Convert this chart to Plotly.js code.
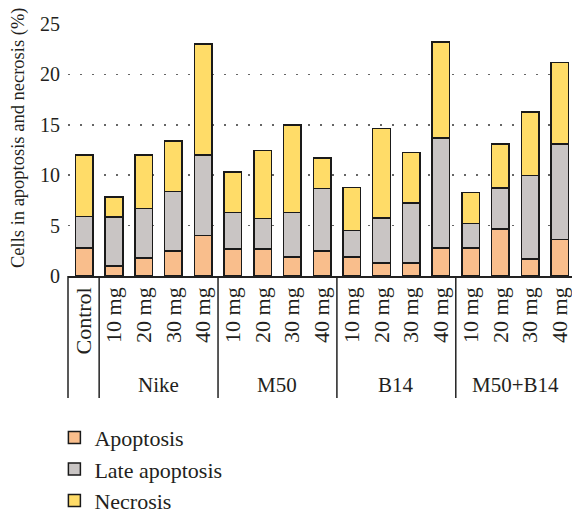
<!DOCTYPE html>
<html><head><meta charset="utf-8">
<script src="https://cdn.plot.ly/plotly-3.0.1.min.js"></script>
<style>html,body{margin:0;padding:0;background:#fff}</style>
</head><body><div id="chart" style="width:572px;height:513px"></div>
<script>
const categories = ['Control',
  '10 mg','20 mg','30 mg','40 mg',
  '10 mg','20 mg','30 mg','40 mg',
  '10 mg','20 mg','30 mg','40 mg',
  '10 mg','20 mg','30 mg','40 mg'];
const groupNames = ['Nike','M50','B14','M50+B14'];
const groupSizes = [4,4,4,4];
const apoptosis     = [2.8, 1.0,1.8,2.5,4.0, 2.7,2.7,1.9,2.5, 1.9,1.3,1.3,2.8, 2.8,4.65,1.7,3.6];
const lateApoptosis = [3.1, 4.85,4.9,5.9,8.0, 3.6,3.0,4.4,6.2, 2.6,4.45,5.95,10.9, 2.4,4.1,8.25,9.5];
const necrosis      = [6.1, 2.0,5.3,5.0,11.0, 4.0,6.75,8.7,3.0, 4.3,8.9,5.0,9.5, 3.1,4.35,6.3,8.1];
const yTicks = [0,5,10,15,20,25];
const yTitle = 'Cells in apoptosis and necrosis (%)';

const FONT = 'Liberation Serif, Times New Roman, serif';
const TXT = '#231f20';
const xs = categories.map((_, i) => i);
function bar(name, vals, color, grp) {
  return {type:'bar', name, x: xs, y: vals, width: 0.59, legendgroup: grp,
    marker:{color, line:{color:'#1a1a1a', width:1.5}}, hoverinfo:'y'};
}
const data = [
  bar('Apoptosis', apoptosis, '#F9BE8C', 'a'),
  bar('Late apoptosis', lateApoptosis, '#C9C5C4', 'b'),
  bar('Necrosis', necrosis, '#FFDC68', 'c')
];

const shapes = [];
const annotations = [];
const sepBottom = -0.484;
shapes.push({type:'line', xref:'paper', yref:'paper', x0:0, x1:0, y0:0, y1:sepBottom, line:{color:'#222', width:1.5}});
let start = 1;
groupSizes.forEach((n, g) => {
  const left = start - 0.5;
  shapes.push({type:'line', xref:'x', yref:'paper', x0:left, x1:left, y0:0, y1:sepBottom, line:{color:'#222', width:1.5}});
  annotations.push({xref:'x', yref:'paper', x:start + (n-1)/2, y:-0.4325, yanchor:'middle', xanchor:'center',
    text: groupNames[g], showarrow:false, font:{family:FONT, size:21, color:TXT}});
  start += n;
});
annotations.push({xref:'paper', yref:'paper', x:-0.097, y:0.548, xanchor:'center', yanchor:'middle',
  textangle:-90, text:yTitle, showarrow:false, font:{family:FONT, size:18.5, color:TXT}});

const layout = {
  width:572, height:513,
  margin:{l:68, r:0, t:24, b:237, autoexpand:false},
  paper_bgcolor:'#fff', plot_bgcolor:'#fff',
  barmode:'stack',
  font:{family:FONT, color:TXT},
  xaxis:{range:[-0.548, 16.41], tickvals: xs, ticktext: categories, tickangle:-90,
    tickfont:{family:FONT, size:22, color:TXT}, showgrid:false, zeroline:false,
    showline:true, linecolor:'#222', linewidth:1.5, ticks:'', fixedrange:true, automargin:false,
    ticklabelstandoff:1},
  yaxis:{range:[0,25], tickvals:yTicks, tickfont:{family:FONT, size:20, color:TXT},
    showgrid:true, gridcolor:'#666', gridwidth:1.5, griddash:'2px,10px', zeroline:false,
    showline:false, ticks:'', automargin:false, ticklabelstandoff:7},
  legend:{x:-0.027, xanchor:'left', y:-0.558, yanchor:'top', traceorder:'grouped', tracegroupgap:0,
    font:{family:FONT, size:22, color:TXT}, bgcolor:'rgba(0,0,0,0)'},
  shapes, annotations, bargap:0.3
};
Plotly.newPlot('chart', data, layout, {displayModeBar:false, staticPlot:true});
</script></body></html>
